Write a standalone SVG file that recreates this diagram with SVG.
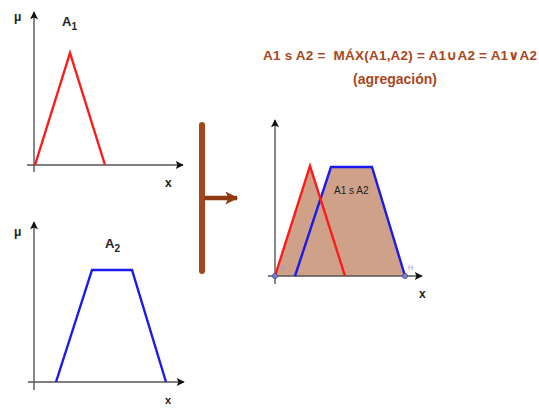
<svg xmlns="http://www.w3.org/2000/svg" width="539" height="408" viewBox="0 0 539 408">
<defs>
<marker id="ah" viewBox="0 0 10 10" refX="9" refY="5" markerWidth="10" markerHeight="8" markerUnits="userSpaceOnUse" orient="auto">
<path d="M0,0 L10,5 L0,10 L2,5 z" fill="#111"/>
</marker>
<marker id="bh" viewBox="0 0 10 10" refX="9" refY="5" markerWidth="15" markerHeight="13" markerUnits="userSpaceOnUse" orient="auto">
<path d="M0,0 L10,5 L0,10 L2.5,5 z" fill="#8e3a12"/>
</marker>
<style>
.ax{stroke:#555;stroke-width:1.4;fill:none}
.lbl{font-family:"Liberation Sans",Arial,sans-serif;font-weight:bold;fill:#222}
.red{stroke:#ff1a1a;stroke-width:2.4;fill:none;stroke-linejoin:miter}
.blue{stroke:#1a1aee;stroke-width:2.4;fill:none}
.ttl{font-family:"Liberation Sans","DejaVu Sans",Arial,sans-serif;font-weight:bold;fill:#a8481c}
</style>
</defs>
<rect width="539" height="408" fill="#fff"/>

<g id="graphA1">
<line class="ax" x1="34" y1="172" x2="34" y2="12" marker-end="url(#ah)"/>
<line class="ax" x1="27" y1="165" x2="183" y2="165" marker-end="url(#ah)"/>
<polyline class="red" points="35,165 70,53 105,165"/>
<text class="lbl" x="14" y="21" font-size="12">μ</text>
<text class="lbl" x="62" y="26" font-size="13">A<tspan font-size="10" dy="4">1</tspan></text>
<text class="lbl" x="165" y="187" font-size="12">x</text>
</g>

<g id="graphA2">
<line class="ax" x1="34" y1="390" x2="34" y2="222" marker-end="url(#ah)"/>
<line class="ax" x1="28" y1="382" x2="184" y2="382" marker-end="url(#ah)"/>
<polyline class="blue" points="56,382 92,270 132,270 166,382"/>
<text class="lbl" x="14" y="236" font-size="12">μ</text>
<text class="lbl" x="105" y="248" font-size="13">A<tspan font-size="10" dy="4">2</tspan></text>
<text class="lbl" x="165" y="404" font-size="11">x</text>
</g>

<g id="connectors">
<line x1="202" y1="125" x2="202" y2="271" stroke="#a4461a" stroke-width="6" stroke-linecap="round"/>
<line x1="204" y1="198" x2="237" y2="198" stroke="#8e3a12" stroke-width="4.5" marker-end="url(#bh)"/>
</g>

<g id="title">
<text class="ttl" x="263" y="60" font-size="13.5" textLength="274" xml:space="preserve">A1 s A2 =  MÁX(A1,A2) = A1∪A2 = A1∨A2</text>
<text class="ttl" x="395" y="84" font-size="14" text-anchor="middle">(agregación)</text>
</g>

<g id="graphUnion">
<polygon points="275,276 310,166 345,276" fill="#cfa189"/>
<polygon points="295,276 331,167 372,167 405,276" fill="#cfa189"/>
<line class="ax" x1="275" y1="284" x2="275" y2="120" marker-end="url(#ah)"/>
<line class="ax" x1="268" y1="276" x2="422" y2="276" marker-end="url(#ah)"/>
<polyline class="blue" points="295,276 331,167 372,167 405,276" stroke="#3a22b8"/>
<polyline class="red" points="275,276 310,166 345,276"/>
<circle cx="275" cy="276" r="2.5" fill="#8080d0" stroke="#4040a0" stroke-width="0.8"/>
<circle cx="405" cy="276" r="2.5" fill="#8080d0" stroke="#4040a0" stroke-width="0.8"/>
<text x="280" y="270" font-family="Liberation Sans,sans-serif" font-size="7" fill="#9a9ae0">A</text>
<text x="408" y="270" font-family="Liberation Sans,sans-serif" font-size="7" fill="#9a9ae0">H</text>
<text x="334" y="194" font-family="Liberation Sans,Arial,sans-serif" font-size="10" fill="#222">A1 s A2</text>
<text class="lbl" x="419" y="298" font-size="12">x</text>
</g>
</svg>
